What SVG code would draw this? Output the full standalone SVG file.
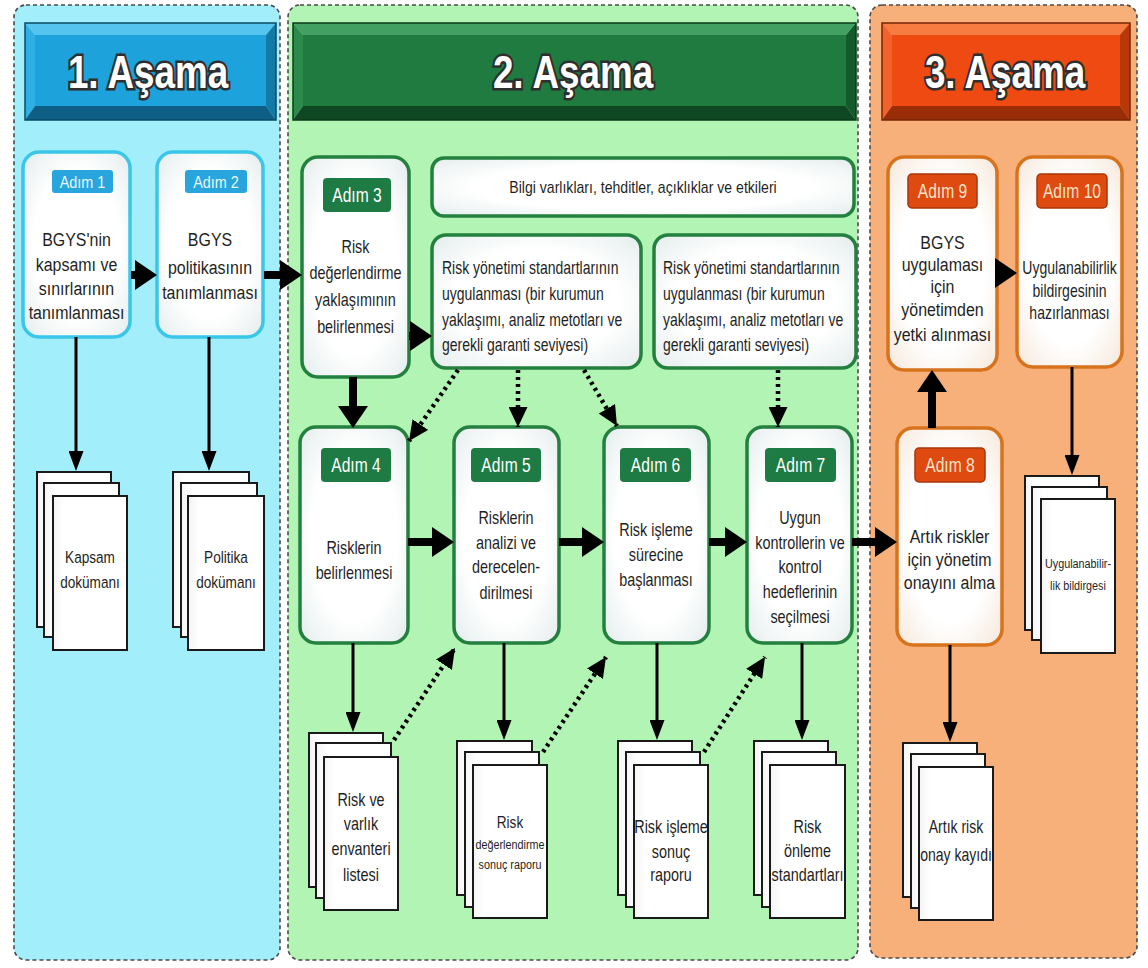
<svg xmlns="http://www.w3.org/2000/svg" width="1148" height="968" viewBox="0 0 1148 968">
<defs>
<style>
.panel{stroke:#4a4a4a;stroke-width:1.6;stroke-dasharray:4 3}
.box1{fill:url(#boxFill);stroke:#3ac6e8;stroke-width:3.5}
.box2{fill:url(#boxFill);stroke:#23803f;stroke-width:3.5}
.box3{fill:url(#boxFillWarm);stroke:#d8731d;stroke-width:3.5}
.tag1{fill:#27a5dc}
.tag2{fill:#1d7b43}
.tag3{fill:#de4a10;stroke:#a8360b;stroke-width:1.5}
.tagtxt{font-family:"Liberation Sans",Arial,sans-serif;text-anchor:middle}
.t{font-family:"Liberation Sans",Arial,sans-serif;fill:#1f1f1f;text-anchor:middle}
.tl{font-family:"Liberation Sans",Arial,sans-serif;fill:#1f1f1f;text-anchor:start}
.doc rect{fill:url(#docFill);stroke:#1a1a1a;stroke-width:2}
.head{font-family:"Liberation Sans",Arial,sans-serif;font-weight:bold;font-size:46px;fill:#fff;stroke:#2e2e2e;stroke-width:5;paint-order:stroke;text-anchor:middle}
.thick{stroke:#000;stroke-width:8;fill:none;marker-end:url(#ahThick)}
.thin{stroke:#000;stroke-width:3;fill:none;marker-end:url(#ahThin)}
.dot{stroke:#000;stroke-width:4.5;stroke-dasharray:3 4;fill:none;marker-end:url(#ahDot)}
</style>
<radialGradient id="boxFill" cx="0.5" cy="0.5" r="0.72">
<stop offset="0.55" stop-color="#ffffff"/>
<stop offset="1" stop-color="#e2ebeb"/>
</radialGradient>
<radialGradient id="boxFillWarm" cx="0.5" cy="0.5" r="0.72">
<stop offset="0.55" stop-color="#ffffff"/>
<stop offset="1" stop-color="#f5e6d8"/>
</radialGradient>
<linearGradient id="docFill" x1="0" y1="0" x2="1" y2="0">
<stop offset="0" stop-color="#f4f4f4"/>
<stop offset="0.15" stop-color="#ffffff"/>
<stop offset="1" stop-color="#ffffff"/>
</linearGradient>
<marker id="ahThick" markerUnits="userSpaceOnUse" markerWidth="22" markerHeight="30" refX="4" refY="15" orient="auto">
<path d="M0,0 L22,15 L0,30 Z" fill="#000"/>
</marker>
<marker id="ahThin" markerUnits="userSpaceOnUse" markerWidth="20" markerHeight="15" refX="4" refY="7.5" orient="auto">
<path d="M0,0 L20,7.5 L0,15 Z" fill="#000"/>
</marker>
<marker id="ahDot" markerUnits="userSpaceOnUse" markerWidth="20" markerHeight="19" refX="20" refY="9.5" orient="auto">
<path d="M0,0 L20,9.5 L0,19 Z" fill="#000"/>
</marker>
</defs>

<rect width="1148" height="968" fill="#ffffff"/>

<!-- phase backgrounds -->
<g id="phase-bg">
<rect class="panel" x="14" y="5" width="266" height="955" rx="12" fill="#a2eefa"/>
<rect class="panel" x="288" y="5" width="570" height="955" rx="12" fill="#b2f4b3"/>
<rect class="panel" x="870" y="5" width="267" height="953" rx="12" fill="#f8b07a"/>
</g>

<!-- bevelled phase headers -->
<g id="header-1">
<polygon points="25,23 276,23 266,35 35,35" fill="#55c4ee"/>
<polygon points="25,23 35,35 35,106 25,120" fill="#2fb0e4"/>
<polygon points="276,23 266,35 266,106 276,120" fill="#137aa8"/>
<polygon points="25,120 276,120 266,106 35,106" fill="#0d5f86"/>
<rect x="35" y="35" width="231" height="71" fill="#1ea2db"/>
<rect x="25" y="23" width="251" height="97" fill="none" stroke="#0a4a68" stroke-width="1.5"/>
<text class="head" transform="translate(148,88) scale(0.8,1)">1. Aşama</text>
</g>
<g id="header-2">
<polygon points="293,23 856,23 846,35 303,35" fill="#43a063"/>
<polygon points="293,23 303,35 303,106 293,120" fill="#2c8a4c"/>
<polygon points="856,23 846,35 846,106 856,120" fill="#145a2c"/>
<polygon points="293,120 856,120 846,106 303,106" fill="#0e4722"/>
<rect x="303" y="35" width="543" height="71" fill="#1f7b3f"/>
<rect x="293" y="23" width="563" height="97" fill="none" stroke="#0b3a1b" stroke-width="1.5"/>
<text class="head" transform="translate(573,88) scale(0.8,1)">2. Aşama</text>
</g>
<g id="header-3">
<polygon points="882,23 1130,23 1120,35 892,35" fill="#f67c42"/>
<polygon points="882,23 892,35 892,106 882,120" fill="#f2622c"/>
<polygon points="1130,23 1120,35 1120,106 1130,120" fill="#b8380a"/>
<polygon points="882,120 1130,120 1120,106 892,106" fill="#982d08"/>
<rect x="892" y="35" width="228" height="71" fill="#ee4a12"/>
<rect x="882" y="23" width="248" height="97" fill="none" stroke="#7a2405" stroke-width="1.5"/>
<text class="head" transform="translate(1005,88) scale(0.8,1)">3. Aşama</text>
</g>

<!-- phase 1 steps -->
<g id="step-1">
<rect class="box1" x="23" y="152" width="107" height="185" rx="16"/>
<rect class="tag1" x="52" y="170" width="61" height="23" rx="3"/>
<text class="tagtxt" fill="#e8f7ff" font-size="17" transform="translate(82.5,188) scale(0.85,1)">Adım 1</text>
<text class="t" font-size="19" transform="translate(76.5,0) scale(0.84,1)"><tspan x="0" y="246">BGYS'nin</tspan><tspan x="0" y="271">kapsamı ve</tspan><tspan x="0" y="295">sınırlarının</tspan><tspan x="0" y="319">tanımlanması</tspan></text>
</g>
<g id="step-2">
<rect class="box1" x="157" y="152" width="106" height="185" rx="16"/>
<rect class="tag1" x="185" y="170" width="62" height="23" rx="3"/>
<text class="tagtxt" fill="#e8f7ff" font-size="17" transform="translate(216,188) scale(0.85,1)">Adım 2</text>
<text class="t" font-size="19" transform="translate(210,0) scale(0.84,1)"><tspan x="0" y="246">BGYS</tspan><tspan x="0" y="274">politikasının</tspan><tspan x="0" y="299">tanımlanması</tspan></text>
</g>
<g id="doc-scope" class="doc">
<rect x="37" y="472" width="74" height="155"/>
<rect x="44" y="483" width="75" height="154"/>
<rect x="53" y="496" width="74" height="154"/>
<text class="t" font-size="17" transform="translate(90,0) scale(0.8,1)"><tspan x="0" y="563">Kapsam</tspan><tspan x="0" y="588">dokümanı</tspan></text>
</g>
<g id="doc-policy" class="doc">
<rect x="173" y="472" width="76" height="155"/>
<rect x="181" y="483" width="76" height="154"/>
<rect x="188" y="496" width="76" height="154"/>
<text class="t" font-size="17" transform="translate(226,0) scale(0.8,1)"><tspan x="0" y="563">Politika</tspan><tspan x="0" y="588">dokümanı</tspan></text>
</g>

<!-- phase 2 steps -->
<g id="step-3">
<rect class="box2" x="302" y="157" width="107" height="220" rx="16"/>
<rect class="tag2" x="323" y="178" width="68" height="34" rx="4"/>
<text class="tagtxt" fill="#ffffff" font-size="20" transform="translate(357,202) scale(0.78,1)">Adım 3</text>
<text class="t" font-size="18" transform="translate(355.5,0) scale(0.8,1)"><tspan x="0" y="253">Risk</tspan><tspan x="0" y="279">değerlendirme</tspan><tspan x="0" y="306">yaklaşımının</tspan><tspan x="0" y="333">belirlenmesi</tspan></text>
</g>
<g id="info-box">
<rect class="box2" x="432" y="158" width="422" height="58" rx="12"/>
<text class="t" font-size="16" transform="translate(643,193) scale(0.88,1)">Bilgi varlıkları, tehditler, açıklıklar ve etkileri</text>
</g>
<g id="standards-a">
<rect class="box2" x="432" y="235" width="209" height="133" rx="14"/>
<text class="tl" font-size="17.5" transform="translate(442,0) scale(0.8,1)"><tspan x="0" y="274">Risk yönetimi standartlarının</tspan><tspan x="0" y="300">uygulanması (bir kurumun</tspan><tspan x="0" y="326">yaklaşımı, analiz metotları ve</tspan><tspan x="0" y="351">gerekli garanti seviyesi)</tspan></text>
</g>
<g id="standards-b">
<rect class="box2" x="654" y="235" width="202" height="133" rx="14"/>
<text class="tl" font-size="17.5" transform="translate(663,0) scale(0.8,1)"><tspan x="0" y="274">Risk yönetimi standartlarının</tspan><tspan x="0" y="300">uygulanması (bir kurumun</tspan><tspan x="0" y="326">yaklaşımı, analiz metotları ve</tspan><tspan x="0" y="351">gerekli garanti seviyesi)</tspan></text>
</g>
<g id="step-4">
<rect class="box2" x="300" y="427" width="108" height="216" rx="16"/>
<rect class="tag2" x="321" y="448" width="70" height="34" rx="4"/>
<text class="tagtxt" fill="#ffffff" font-size="20" transform="translate(356,472) scale(0.78,1)">Adım 4</text>
<text class="t" font-size="18" transform="translate(354,0) scale(0.8,1)"><tspan x="0" y="554">Risklerin</tspan><tspan x="0" y="579">belirlenmesi</tspan></text>
</g>
<g id="step-5">
<rect class="box2" x="454" y="427" width="105" height="216" rx="16"/>
<rect class="tag2" x="471" y="448" width="70" height="34" rx="4"/>
<text class="tagtxt" fill="#ffffff" font-size="20" transform="translate(506,472) scale(0.78,1)">Adım 5</text>
<text class="t" font-size="18" transform="translate(506,0) scale(0.8,1)"><tspan x="0" y="524">Risklerin</tspan><tspan x="0" y="549">analizi ve</tspan><tspan x="0" y="573">derecelen-</tspan><tspan x="0" y="599">dirilmesi</tspan></text>
</g>
<g id="step-6">
<rect class="box2" x="604" y="427" width="105" height="216" rx="16"/>
<rect class="tag2" x="620" y="448" width="71" height="34" rx="4"/>
<text class="tagtxt" fill="#ffffff" font-size="20" transform="translate(655.5,472) scale(0.78,1)">Adım 6</text>
<text class="t" font-size="18" transform="translate(656,0) scale(0.8,1)"><tspan x="0" y="536">Risk işleme</tspan><tspan x="0" y="561">sürecine</tspan><tspan x="0" y="586">başlanması</tspan></text>
</g>
<g id="step-7">
<rect class="box2" x="747" y="427" width="105" height="216" rx="16"/>
<rect class="tag2" x="765" y="448" width="71" height="34" rx="4"/>
<text class="tagtxt" fill="#ffffff" font-size="20" transform="translate(800.5,472) scale(0.78,1)">Adım 7</text>
<text class="t" font-size="18" transform="translate(800,0) scale(0.8,1)"><tspan x="0" y="524">Uygun</tspan><tspan x="0" y="549">kontrollerin ve</tspan><tspan x="0" y="573">kontrol</tspan><tspan x="0" y="598">hedeflerinin</tspan><tspan x="0" y="623">seçilmesi</tspan></text>
</g>
<g id="doc-inventory" class="doc">
<rect x="309" y="733" width="74" height="154"/>
<rect x="316" y="743" width="75" height="155"/>
<rect x="324" y="757" width="74" height="153"/>
<text class="t" font-size="18" transform="translate(361,0) scale(0.8,1)"><tspan x="0" y="806">Risk ve</tspan><tspan x="0" y="830">varlık</tspan><tspan x="0" y="855">envanteri</tspan><tspan x="0" y="881">listesi</tspan></text>
</g>
<g id="doc-assessment" class="doc">
<rect x="457" y="741" width="75" height="154"/>
<rect x="465" y="752" width="74" height="155"/>
<rect x="473" y="765" width="74" height="153"/>
<text class="t" transform="translate(510,0) scale(0.8,1)"><tspan x="0" y="828" font-size="17">Risk</tspan><tspan x="0" y="849" font-size="13.5">değerlendirme</tspan><tspan x="0" y="869" font-size="13.5">sonuç raporu</tspan></text>
</g>
<g id="doc-treatment" class="doc">
<rect x="618" y="741" width="74" height="154"/>
<rect x="626" y="752" width="74" height="155"/>
<rect x="634" y="765" width="74" height="153"/>
<text class="t" font-size="18" transform="translate(671,0) scale(0.8,1)"><tspan x="0" y="833">Risk işleme</tspan><tspan x="0" y="858">sonuç</tspan><tspan x="0" y="881">raporu</tspan></text>
</g>
<g id="doc-prevention" class="doc">
<rect x="754" y="741" width="74" height="154"/>
<rect x="762" y="752" width="74" height="155"/>
<rect x="770" y="765" width="75" height="153"/>
<text class="t" font-size="18" transform="translate(807.5,0) scale(0.8,1)"><tspan x="0" y="833">Risk</tspan><tspan x="0" y="857">önleme</tspan><tspan x="0" y="881">standartları</tspan></text>
</g>

<!-- phase 3 steps -->
<g id="step-8">
<rect class="box3" x="897" y="428" width="105" height="217" rx="16"/>
<rect class="tag3" x="915" y="448" width="70" height="34" rx="4"/>
<text class="tagtxt" fill="#fde3c8" font-size="20" transform="translate(950,472) scale(0.78,1)">Adım 8</text>
<text class="t" font-size="19" transform="translate(949.5,0) scale(0.84,1)"><tspan x="0" y="543">Artık riskler</tspan><tspan x="0" y="566">için yönetim</tspan><tspan x="0" y="589">onayını alma</tspan></text>
</g>
<g id="step-9">
<rect class="box3" x="888" y="157" width="109" height="213" rx="16"/>
<rect class="tag3" x="908" y="174" width="69" height="34" rx="4"/>
<text class="tagtxt" fill="#fde3c8" font-size="20" transform="translate(942.5,198) scale(0.78,1)">Adım 9</text>
<text class="t" font-size="19" transform="translate(942.5,0) scale(0.84,1)"><tspan x="0" y="249">BGYS</tspan><tspan x="0" y="271">uygulaması</tspan><tspan x="0" y="293">için</tspan><tspan x="0" y="316">yönetimden</tspan><tspan x="0" y="341">yetki alınması</tspan></text>
</g>
<g id="step-10">
<rect class="box3" x="1017" y="157" width="105" height="210" rx="16"/>
<rect class="tag3" x="1037" y="174" width="70" height="34" rx="4"/>
<text class="tagtxt" fill="#fde3c8" font-size="20" transform="translate(1072,198) scale(0.78,1)">Adım 10</text>
<text class="t" font-size="18" transform="translate(1069.5,0) scale(0.78,1)"><tspan x="0" y="274">Uygulanabilirlik</tspan><tspan x="0" y="297">bildirgesinin</tspan><tspan x="0" y="319">hazırlanması</tspan></text>
</g>
<g id="doc-soa" class="doc">
<rect x="1025" y="476" width="74" height="154"/>
<rect x="1032" y="487" width="75" height="153"/>
<rect x="1041" y="499" width="74" height="154"/>
<text class="t" font-size="13.5" transform="translate(1078,0) scale(0.8,1)"><tspan x="0" y="568">Uygulanabilir-</tspan><tspan x="0" y="590">lik bildirgesi</tspan></text>
</g>
<g id="doc-residual" class="doc">
<rect x="903" y="743" width="74" height="154"/>
<rect x="911" y="754" width="74" height="154"/>
<rect x="919" y="767" width="74" height="153"/>
<text class="t" font-size="18" transform="translate(956,0) scale(0.78,1)"><tspan x="0" y="833">Artık risk</tspan><tspan x="0" y="861">onay kayıdı</tspan></text>
</g>

<!-- connectors -->
<g id="connectors">
<path class="thick" d="M131,275 H139"/>
<path class="thick" d="M264,275 H284"/>
<path class="thick" d="M409,336 H414"/>
<path class="thick" d="M353,377 V410"/>
<path class="thick" d="M408,542 H436"/>
<path class="thick" d="M559,542 H586"/>
<path class="thick" d="M709,542 H729"/>
<path class="thick" d="M852,542 H879"/>
<path class="thick" d="M932,428 V388"/>
<path class="thick" d="M997,273 H999"/>

<path class="thin" d="M76,337 V455"/>
<path class="thin" d="M209,337 V455"/>
<path class="thin" d="M353,643 V716"/>
<path class="thin" d="M504,643 V724"/>
<path class="thin" d="M657,643 V724"/>
<path class="thin" d="M802,643 V724"/>
<path class="thin" d="M1072,367 V459"/>
<path class="thin" d="M950,645 V726"/>

<path class="dot" d="M458,370 L409,441"/>
<path class="dot" d="M518,370 V427"/>
<path class="dot" d="M584,370 L617,426"/>
<path class="dot" d="M778,370 V427"/>
<path class="dot" d="M394,740 L455,648"/>
<path class="dot" d="M543,752 L606,657"/>
<path class="dot" d="M704,752 L765,657"/>
</g>
</svg>
